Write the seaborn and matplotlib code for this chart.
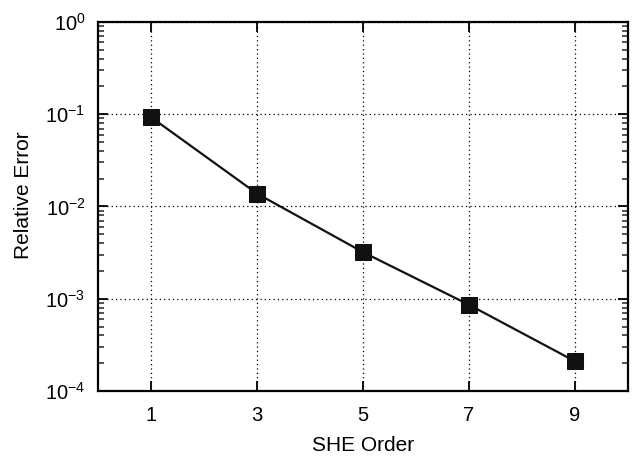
import numpy as np
import pandas as pd
import matplotlib
matplotlib.use("Agg")
import matplotlib.pyplot as plt
from matplotlib.ticker import LogLocator, LogFormatterMathtext, NullFormatter, FixedLocator
import seaborn as sns

# Convergence of the spherical-harmonic-expansion order
she_order = [1, 3, 5, 7, 9]
relative_error = [0.093, 0.0138, 0.0032, 0.00086, 0.00021]
x_ticks = [1, 3, 5, 7, 9]

sns.set_style("ticks")
plt.rcParams["font.family"] = ["Liberation Sans", "DejaVu Sans"]
plt.rcParams["mathtext.fontset"] = "custom"
plt.rcParams["mathtext.rm"] = "Liberation Sans"
plt.rcParams["mathtext.it"] = "Liberation Sans:italic"
plt.rcParams["mathtext.bf"] = "Liberation Sans:bold"
plt.rcParams["axes.unicode_minus"] = False
plt.rcParams["text.color"] = "black"
plt.rcParams["axes.labelcolor"] = "black"

df = pd.DataFrame({"SHE Order": she_order, "Relative Error": relative_error})

fig = plt.figure(figsize=(6.37, 4.57), dpi=100)
ax = fig.add_axes([0.1538, 0.1444, 0.8321, 0.8075])

sns.lineplot(data=df, x="SHE Order", y="Relative Error", ax=ax,
             color="#111111", linewidth=1.6, marker="s", markersize=11,
             markeredgecolor="#111111", markerfacecolor="#111111", zorder=3)

ax.set_yscale("log")
ax.set_xlim(0, 10)
ax.set_ylim(1e-4, 1e0)

ax.xaxis.set_major_locator(FixedLocator(x_ticks))
ax.set_xticklabels([str(t) for t in x_ticks])
ax.yaxis.set_major_locator(LogLocator(base=10, numticks=10))
ax.yaxis.set_major_formatter(LogFormatterMathtext())
ax.yaxis.set_minor_locator(LogLocator(base=10, subs=np.arange(2, 10), numticks=10))
ax.yaxis.set_minor_formatter(NullFormatter())

ax.grid(True, which="major", linestyle=(0, (1, 2.5)), color="black", linewidth=0.9)
ax.set_axisbelow(True)

ax.tick_params(which="major", direction="in", length=7, width=1.3,
               top=True, right=True, labelsize=14.5, colors="black")
ax.tick_params(axis="x", which="major", pad=11)
ax.tick_params(axis="y", which="major", pad=9)
ax.tick_params(which="minor", direction="in", length=4, width=1.1,
               top=False, bottom=False, left=True, right=True)
ax.tick_params(axis="x", which="minor", bottom=False, top=False)

for s in ax.spines.values():
    s.set_linewidth(1.6)
    s.set_color("black")
    s.set_visible(True)

ax.set_xlabel("SHE Order", fontsize=15, labelpad=8, color="black")
ax.set_ylabel("Relative Error", fontsize=15, color="black")
ax.yaxis.set_label_coords(-0.123, 0.53)

fig.savefig("out.png", dpi=100)
